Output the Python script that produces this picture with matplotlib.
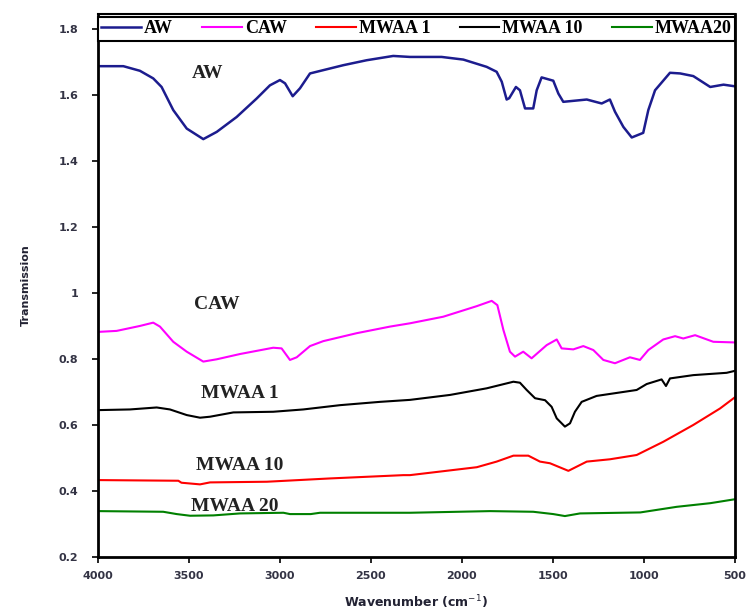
import numpy as np
import matplotlib
matplotlib.use('Agg')
import matplotlib.pyplot as plt

# wavenumber (cm-1) / transmission values
aw_wn = [3997, 3859, 3768, 3695, 3649, 3585, 3511, 3420, 3346, 3237, 3127, 3054, 2999,
         2971, 2929, 2889, 2834, 2761, 2651, 2523, 2377, 2285, 2111, 1992, 1864, 1809,
         1781, 1754, 1740, 1703, 1681, 1653, 1608, 1589, 1562, 1498, 1470, 1443, 1314,
         1232, 1187, 1159, 1113, 1067, 1004, 976, 939, 857, 801, 729, 636, 563, 500]
aw_val = [1.687, 1.687, 1.673, 1.650, 1.624, 1.554, 1.498, 1.466, 1.488, 1.533, 1.589, 1.629, 1.645,
          1.635, 1.596, 1.620, 1.665, 1.675, 1.690, 1.705, 1.718, 1.715, 1.715, 1.707, 1.685, 1.670,
          1.640, 1.586, 1.590, 1.624, 1.614, 1.559, 1.559, 1.614, 1.653, 1.643, 1.604, 1.579, 1.586,
          1.574, 1.586, 1.549, 1.503, 1.471, 1.485, 1.554, 1.614, 1.667, 1.665, 1.657, 1.624, 1.631, 1.626]

caw_wn = [3997, 3896, 3768, 3695, 3658, 3585, 3511, 3420, 3346, 3218, 3036, 2990, 2944, 2907,
          2834, 2761, 2578, 2395, 2285, 2102, 1918, 1836, 1805, 1772, 1736, 1708, 1663, 1617,
          1534, 1479, 1452, 1388, 1333, 1278, 1223, 1159, 1077, 1022, 976, 894, 829, 784, 719,
          619, 500]
caw_val = [0.882, 0.885, 0.900, 0.910, 0.898, 0.852, 0.822, 0.792, 0.799, 0.815, 0.834, 0.832, 0.797, 0.805,
           0.839, 0.854, 0.878, 0.898, 0.908, 0.928, 0.960, 0.976, 0.963, 0.888, 0.822, 0.807, 0.822, 0.802,
           0.842, 0.859, 0.832, 0.829, 0.839, 0.827, 0.797, 0.787, 0.805, 0.797, 0.827, 0.859, 0.869, 0.862, 0.872,
           0.852, 0.850]

# black curve (legend: MWAA 10)
blk_wn = [3997, 3823, 3676, 3603, 3511, 3438, 3383, 3255, 3036, 2871, 2669, 2450, 2285, 2065,
          1864, 1717, 1681, 1644, 1598, 1543, 1507, 1479, 1434, 1406, 1379, 1342, 1260, 1040,
          985, 903, 879, 857, 729, 546, 500]
blk_val = [0.645, 0.647, 0.653, 0.647, 0.630, 0.622, 0.625, 0.638, 0.640, 0.647, 0.660, 0.670, 0.676, 0.691,
           0.711, 0.731, 0.728, 0.706, 0.681, 0.675, 0.655, 0.620, 0.595, 0.605, 0.640, 0.670, 0.688, 0.706,
           0.724, 0.738, 0.718, 0.741, 0.751, 0.758, 0.764]

# red curve (legend: MWAA 1)
red_wn = [3997, 3557, 3540, 3438, 3383, 3071, 2724, 2321, 2285, 1918, 1809, 1717, 1635, 1571,
          1516, 1415, 1314, 1187, 1040, 894, 729, 582, 500]
red_val = [0.433, 0.431, 0.425, 0.420, 0.426, 0.428, 0.438, 0.448, 0.448, 0.472, 0.489, 0.507, 0.507, 0.489,
           0.484, 0.461, 0.489, 0.496, 0.509, 0.549, 0.600, 0.650, 0.684]

grn_wn = [3997, 3640, 3566, 3493, 3365, 3218, 2980, 2944, 2830, 2779, 2285, 1845, 1608, 1498,
          1434, 1351, 1020, 820, 636, 500]
grn_val = [0.339, 0.337, 0.330, 0.325, 0.326, 0.332, 0.334, 0.330, 0.330, 0.334, 0.334, 0.339, 0.337, 0.330,
           0.324, 0.332, 0.335, 0.352, 0.363, 0.375]

x_ticks = [4000, 3500, 3000, 2500, 2000, 1500, 1000, 500]
y_ticks = [0.2, 0.4, 0.6, 0.8, 1.0, 1.2, 1.4, 1.6, 1.8]

fig = plt.figure(figsize=(7.48, 6.10), dpi=100)
ax = fig.add_axes([0.1306, 0.0869, 0.852, 0.8901])

ax.plot(aw_wn, aw_val, color='#1c1c8e', lw=1.8, label='AW')
ax.plot(caw_wn, caw_val, color='#ff00ff', lw=1.5, label='CAW')
ax.plot(red_wn, red_val, color='#ff0000', lw=1.5, label='MWAA 1')
ax.plot(blk_wn, blk_val, color='black', lw=1.5, label='MWAA 10')
ax.plot(grn_wn, grn_val, color='#008000', lw=1.5, label='MWAA20')

ax.set_xlim(4000, 500)
ax.set_ylim(0.2, 1.845)
ax.set_xticks(x_ticks)
ax.set_yticks(y_ticks)
ax.set_yticklabels(['%g' % v for v in y_ticks])
ax.tick_params(direction='out', length=4, width=1.2, labelsize=8, labelcolor='#333344')
ax.tick_params(axis='y', pad=10)
ax.tick_params(axis='x', pad=6)
for lab in ax.get_xticklabels() + ax.get_yticklabels():
    lab.set_fontweight('bold')

for s in ['left', 'bottom', 'right']:
    ax.spines[s].set_linewidth(2.0)
ax.spines['top'].set_linewidth(1.5)

serif = ['Liberation Serif', 'DejaVu Serif']
txt = dict(family=serif, fontsize=14, fontweight='bold', color='#222222', ha='center', va='center')
ax.text(3394, 1.666, 'AW', **txt)
ax.text(3346, 0.966, 'CAW', **txt)
ax.text(3218, 0.696, 'MWAA 1', **txt)
ax.text(3218, 0.476, 'MWAA 10', **txt)
ax.text(3246, 0.352, 'MWAA 20', **txt)

ax.set_xlabel('Wavenumber (cm$^{-1}$)', fontsize=9, fontweight='bold', color='#222233', labelpad=9)
ax.set_ylabel('Transmission', fontsize=8, fontweight='bold', color='#222233', labelpad=20)

h = 27 / 543
leg = ax.legend(loc='lower left', bbox_to_anchor=(0, 1 - h, 1, h), mode='expand', ncol=5,
                borderaxespad=0, frameon=True, fancybox=False, handlelength=2.2,
                handletextpad=0.15, columnspacing=0.4, borderpad=0.2,
                prop={'family': serif, 'size': 13, 'weight': 'bold'})
leg.get_frame().set_edgecolor('black')
leg.get_frame().set_linewidth(1.5)
leg.get_frame().set_alpha(1)

fig.savefig('out.png', dpi=100)
